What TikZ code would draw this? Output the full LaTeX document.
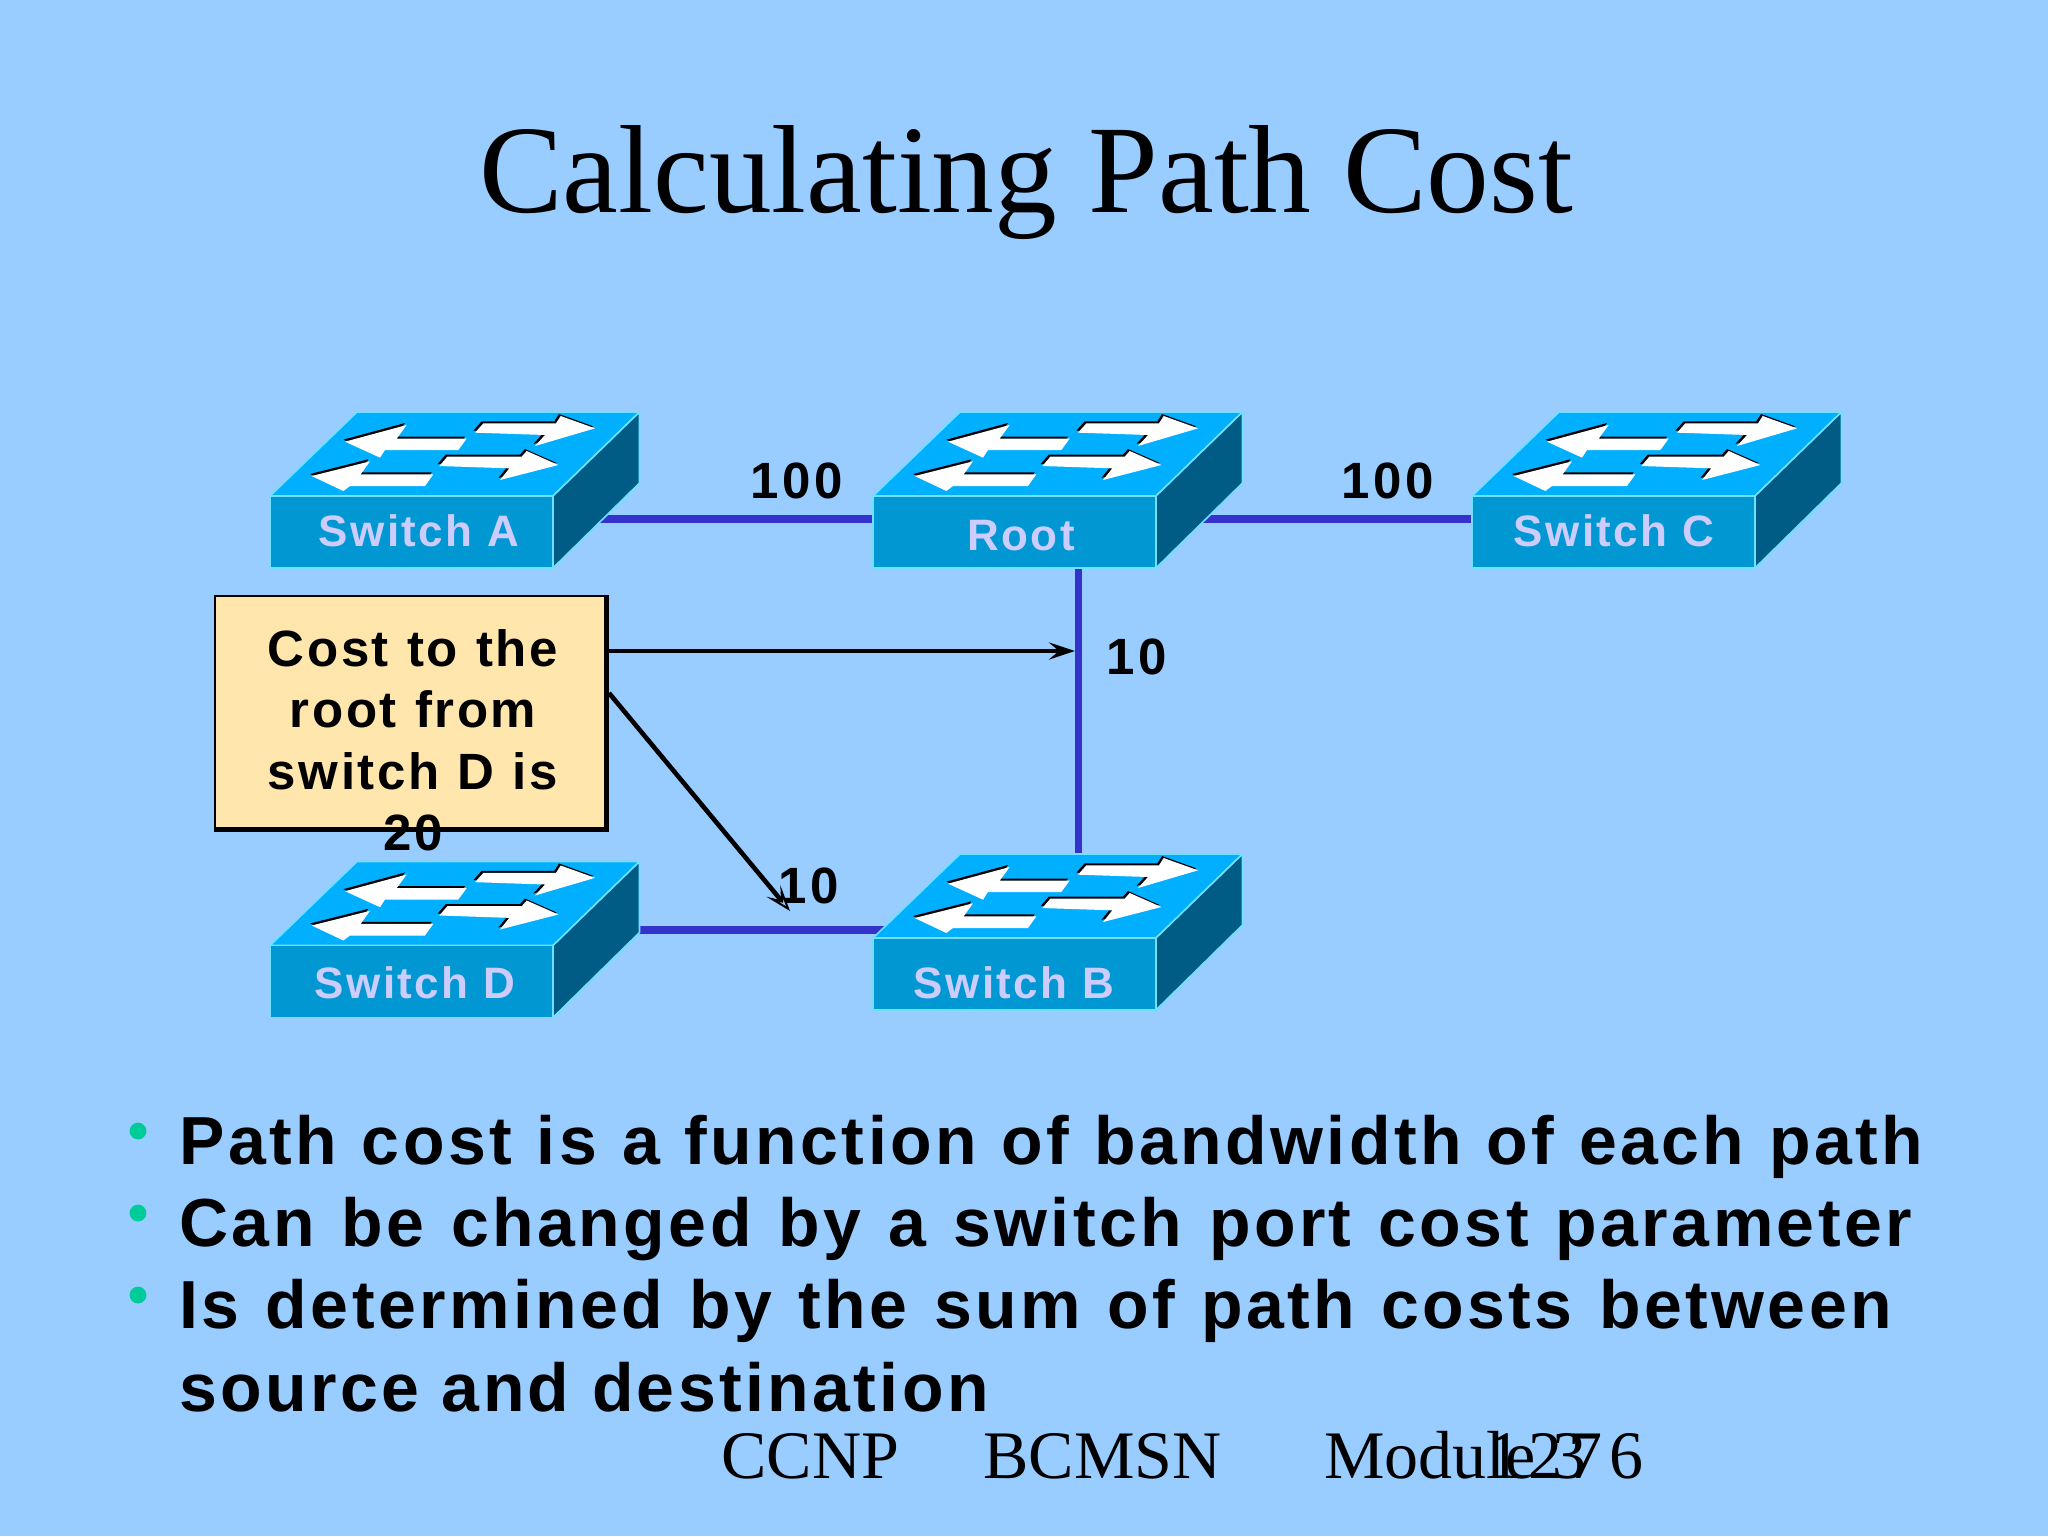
\documentclass[tikz,border=0pt]{standalone}
\usepackage{fontspec}
\usetikzlibrary{arrows.meta}
\setmainfont{Liberation Serif}
\newfontfamily\bulletfont[LetterSpace=5]{Liberation Sans}
\newfontfamily\labelfont[LetterSpace=5.5]{Liberation Sans}
\newfontfamily\numfont[LetterSpace=7]{Liberation Sans}
\newfontfamily\notefont[LetterSpace=5.01,WordSpace=1.1]{Liberation Sans}
\newfontfamily\pagefont[LetterSpace=10]{Liberation Serif}
\definecolor{slidebg}{HTML}{99CCFF}
\definecolor{topface}{HTML}{00B0FF}
\definecolor{frontface}{HTML}{0097D2}
\definecolor{sideface}{HTML}{005C85}
\definecolor{swedge}{HTML}{70E0FF}
\definecolor{linkblue}{HTML}{3333CC}
\definecolor{swlabel}{HTML}{CCCCFF}
\definecolor{notefill}{HTML}{FFE6AD}
\definecolor{bulletgreen}{HTML}{00CC99}
\pgfdeclarelayer{bg}
\pgfdeclarelayer{links}
\pgfsetlayers{bg,links,main}
\tikzset{
  swface/.style={draw=swedge,line width=0.8pt,line join=round},
  swfront/.style={swface,fill=frontface,anchor=north west,minimum width=141.5pt,minimum height=36pt,inner sep=0pt,outer sep=0pt},
  swtext/.style={anchor=base,inner sep=0pt,text=swlabel,font=\fontsize{22}{27}\labelfont\bfseries},
  netlink/.style={draw=linkblue,line width=3.8pt},
  cost/.style={anchor=base,inner sep=0pt,font=\fontsize{25.5}{30}\numfont\bfseries},
  notebox/.style={draw=black,line width=1.4pt,fill=notefill,minimum width=195pt,minimum height=116pt,inner sep=0pt,outer sep=0pt},
  notetext/.style={inner sep=0pt,align=center,font=\fontsize{25.5}{30.75}\notefont\bfseries},
  pointer/.style={draw=black,line width=2.3pt},
  bulletline/.style={anchor=base west,inner sep=0pt,font=\fontsize{34}{40}\bulletfont\bfseries},
  bulletdot/.style={circle,fill=bulletgreen,inner sep=0pt,minimum size=8.4pt},
  foot/.style={anchor=base west,inner sep=0pt,font=\fontsize{34}{40}\selectfont},
}
\newcommand\arrowglyph[1]{%
  \fill[black,shift={(-5,-6)}] #1 -- cycle;
  \fill[white] #1 -- cycle;
}
\newcommand\netswitch[6]{%
  \begin{scope}[shift={(#2,#3)}]
    \filldraw[swface,fill=topface] (0,0) -- (283,0) -- (369.5,-84) -- (87,-84) -- cycle;
    \filldraw[swface,fill=sideface] (283,0) -- (369.5,-84) -- (369.5,-13) -- (283,72) -- cycle;
    \node[swfront] (#1) at (0,0) {};
    \begin{scope}[x=0.16667pt,y=-0.16667pt,shift={(-60,-318)}]
      \arrowglyph{(285,155) -- (470,105) -- (440,146) -- (650,146) -- (625,180) -- (405,180) -- (390,203)}
      \arrowglyph{(675,128) -- (700,100) -- (918,100) -- (932,78) -- (1035,115) -- (855,168) -- (885,135)}
      \arrowglyph{(185,258) -- (360,214) -- (332,253) -- (550,253) -- (525,288) -- (300,288) -- (280,303)}
      \arrowglyph{(568,228) -- (592,200) -- (815,200) -- (830,183) -- (925,225) -- (750,270) -- (778,235)}
    \end{scope}
  \end{scope}
  \node[swtext] (#1label) at (#5,#6) {#4};
}
\begin{document}
\begin{tikzpicture}[x=0.5pt,y=-0.5pt]
\path[use as bounding box] (0,0) rectangle (2048,1536);
\begin{pgfonlayer}{bg}
  \fill[slidebg] (0,0) rectangle (2048,1536);
\end{pgfonlayer}

\node[anchor=base,inner sep=0pt,font=\fontsize{62.7}{70}\selectfont] (title) at (1026,212) {Calculating Path Cost};

\netswitch{swA}{270}{496}{Switch A}{419}{546.5}
\netswitch{swRoot}{873}{496}{Root}{1021}{550}
\netswitch{swC}{1472}{496}{Switch C}{1614}{546.5}
\netswitch{swD}{270}{945.5}{Switch D}{415}{998}
\netswitch{swB}{873}{938}{Switch B}{1014}{998}

\begin{pgfonlayer}{links}
  \draw[netlink] ([yshift=6.5pt]swA.east) -- ([yshift=6.5pt]swRoot.west);
  \draw[netlink] ([yshift=6.5pt]swRoot.east) -- ([yshift=6.5pt]swC.west);
  \draw[netlink] ([xshift=32pt]swRoot.south) -- ([xshift=32pt]swB.north);
  \draw[netlink] ([yshift=7.75pt]swD.north east) -- ([xshift=8pt,yshift=4pt]swB.north west);
\end{pgfonlayer}

\node[cost] (c1) at (797,498) {100};
\node[cost] (c2) at (1388,498) {100};
\node[cost] (c3) at (1137,674) {10};
\node[cost] (c4) at (809,903) {10};

\node[notebox] (note) at (410,712) {};
\begin{pgfonlayer}{links}
  \fill[black] ([shift={(-0.7pt,-1.9pt)}]note.south west) rectangle ([shift={(1.9pt,0.7pt)}]note.north east);
\end{pgfonlayer}
\node[notetext] (notetxt) at (413,740.5) {Cost to the\\root from\\switch D is\\20};
\coordinate (tipA) at (1075,651);
\coordinate (tipB) at (790,911);
\draw[pointer,-{Stealth[length=13pt,width=8.5pt,inset=5pt]}] ([yshift=30.5pt,xshift=1.5pt]note.east) -- (tipA);
\draw[pointer,-{Stealth[open,fill=slidebg,length=13pt,width=9pt,inset=6pt,line width=1pt]}] ([yshift=9.5pt,xshift=2pt]note.east) -- (tipB);

\node[bulletdot] (b1) at (138,1131) {};
\node[bulletdot] (b2) at (138,1213) {};
\node[bulletdot] (b3) at (138,1295) {};
\node[bulletline] (l1) at (179,1164) {\spaceskip=12.5pt Path cost is a function of bandwidth of each path};
\node[bulletline] (l2) at (179,1246) {\spaceskip=13.55pt Can be changed by a switch port cost parameter};
\node[bulletline] (l3) at (179,1328) {\spaceskip=13.25pt Is determined by the sum of path costs between};
\node[bulletline] (l4) at (179,1411) {\spaceskip=11.25pt source and destination};

\node[foot] (f1) at (721,1478) {CCNP};
\node[foot] (f2) at (983,1478) {BCMSN};
\node[foot] (f3) at (1324,1478) {Module 3};
\node[foot,font=\fontsize{34}{40}\pagefont] (f4) at (1487,1478) {1276};
\end{tikzpicture}
\end{document}
